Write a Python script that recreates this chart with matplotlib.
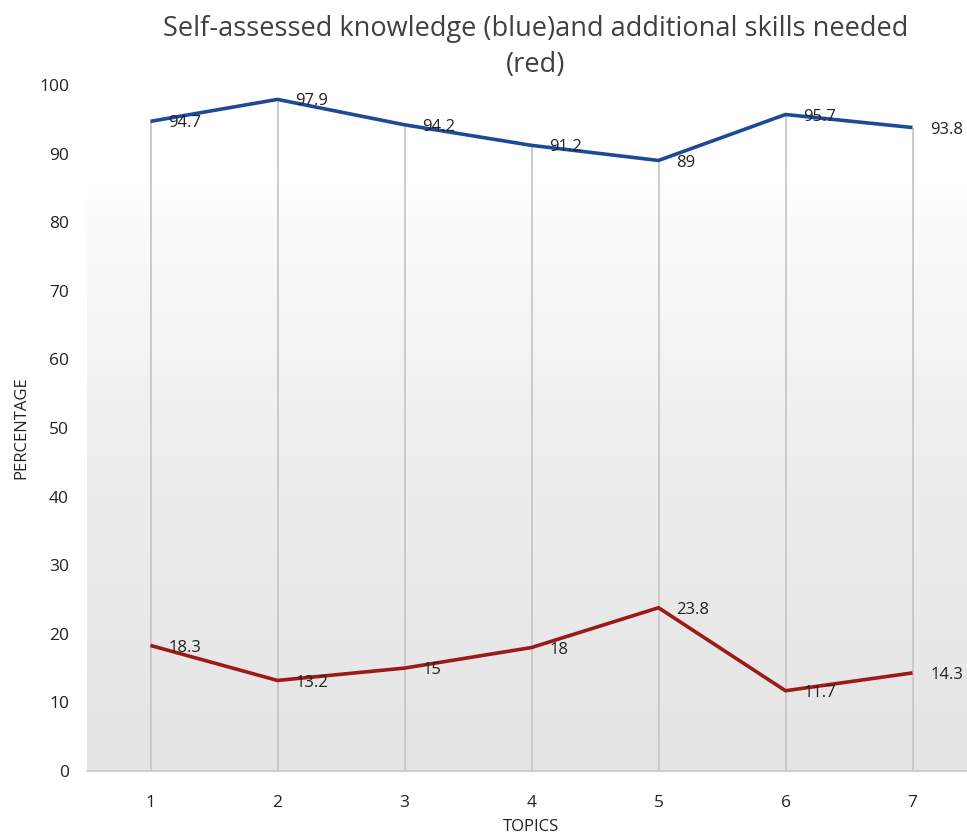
import matplotlib
matplotlib.use("Agg")
import matplotlib.pyplot as plt
import numpy as np
from matplotlib.colors import LinearSegmentedColormap

topics = [1, 2, 3, 4, 5, 6, 7]
knowledge = [94.7, 97.9, 94.2, 91.2, 89, 95.7, 93.8]
skills = [18.3, 13.2, 15, 18, 23.8, 11.7, 14.3]
knowledge_labels = ["94.7", "97.9", "94.2", "91.2", "89", "95.7", "93.8"]
skills_labels = ["18.3", "13.2", "15", "18", "23.8", "11.7", "14.3"]
yticks = [0, 10, 20, 30, 40, 50, 60, 70, 80, 90, 100]

plt.rcParams['font.family'] = ['Open Sans', 'DejaVu Sans']

W, H = 967, 834
fig = plt.figure(figsize=(W / 100, H / 100), dpi=100)
ax = fig.add_axes([87 / W, (H - 771) / H, (976 - 87) / W, (771 - 85) / H])
ax.set_xlim(0.5, 7.5)
ax.set_ylim(0, 100)

# gradient background
cmap = LinearSegmentedColormap.from_list("g", [(0, "#e4e4e4"), (0.5, "#efefef"), (0.88, "#ffffff"), (1, "#ffffff")])
grad = np.linspace(0, 1, 256).reshape(-1, 1)
ax.imshow(grad, cmap=cmap, aspect='auto', extent=[0.5, 7.5, 0, 100], origin='lower', zorder=0)

# drop lines
ax.vlines(topics, 0, knowledge, color="#c4c4c4", lw=1.2, zorder=1)

ax.plot(topics, knowledge, color="#1c4a97", lw=2.6, zorder=3, solid_capstyle='butt')
ax.plot(topics, skills, color="#9b1a1a", lw=2.6, zorder=3, solid_capstyle='butt')

for x, y, t in zip(topics, knowledge, knowledge_labels):
    ax.annotate(t, (x, y), xytext=(13, -1.5), textcoords='offset points', ha='left', va='center',
                fontsize=12, color="#222222", zorder=4)
for x, y, t in zip(topics, skills, skills_labels):
    ax.annotate(t, (x, y), xytext=(13, -1.5), textcoords='offset points', ha='left', va='center',
                fontsize=12, color="#222222", zorder=4)

for s in ['top', 'right', 'left']:
    ax.spines[s].set_visible(False)
ax.spines['bottom'].set_color("#c8c8c8")
ax.spines['bottom'].set_linewidth(1.2)
ax.set_xticks(topics)
ax.set_yticks(yticks)
ax.tick_params(length=0, labelsize=12.5, colors="#222222")
ax.tick_params(axis='y', pad=13)
ax.tick_params(axis='x', pad=17)

fig.text(21 / W, 1 - 428 / H, "PERCENTAGE", rotation=90, ha='center', va='center', fontsize=12,
         color="#222222")
fig.text(531 / W, 1 - 827 / H, "TOPICS", ha='center', va='center', fontsize=12,
         color="#222222")
fig.text(536 / W, 1 - 47 / H, "Self-assessed knowledge (blue)and additional skills needed\n(red)",
         ha='center', va='center', fontsize=19.5, color="#404040", linespacing=1.35)

fig.savefig("out.png", dpi=100)
